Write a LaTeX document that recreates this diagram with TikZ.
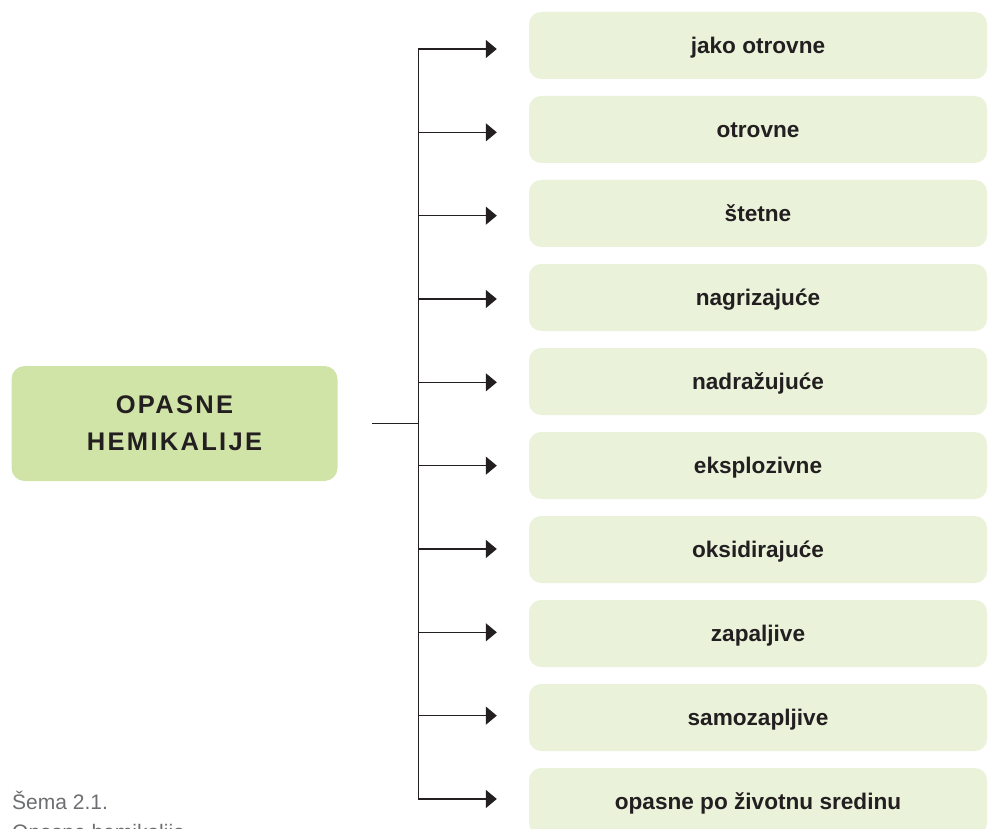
\documentclass[tikz,border=0pt]{standalone}
\usepackage{fontspec}
\setmainfont{Liberation Sans}
\newfontfamily\trackedfont[LetterSpace=9]{Liberation Sans}
\usetikzlibrary{arrows.meta}
\definecolor{ink}{HTML}{231F20}
\definecolor{leaf}{HTML}{EAF2DA}
\definecolor{core}{HTML}{D1E4A8}
\definecolor{capgray}{HTML}{6D6E71}
\tikzset{
  leafbox/.style={fill=leaf, rounded corners=12pt, minimum width=458pt, minimum height=67pt,
    inner sep=0pt, font=\fontsize{22.6}{26}\selectfont\bfseries, text=ink,
    text height=15.8pt, text depth=0pt},
  corebox/.style={fill=core, rounded corners=13pt, minimum width=326pt, minimum height=115pt,
    inner sep=0pt, align=center, font=\trackedfont\fontsize{25.5}{36.7}\selectfont\bfseries, text=ink},
  wire/.style={draw=ink, line width=1.3pt},
  arr/.style={wire, -{Triangle[length=11pt,width=18pt]}, shorten >=32pt},
  captext/.style={font=\fontsize{21}{25}\selectfont, text=capgray, inner sep=0pt, anchor=base west}
}
\begin{document}
\begin{tikzpicture}[x=1pt,y=-1pt]
\useasboundingbox (0,0) rectangle (988,829);
\node[corebox] (core) at (174.5,423.5) {OPASNE\\HEMIKALIJE};
\foreach \t [count=\k from 0] in {jako otrovne, otrovne, štetne, nagrizajuće, nadražujuće,
  eksplozivne, oksidirajuće, zapaljive, samozapljive, opasne po životnu sredinu}{
  \node[leafbox] (b\k) at (758,{45.5+84*\k}) {\t};
  \coordinate (t\k) at (418.3,{49+83.33*\k});
  \draw[arr] (t\k) -- (t\k -| b\k.west);
}
\draw[wire] (t0) -- (t9);
\coordinate (s) at (372,423.3);
\draw[wire] (s) -- (s -| t0);
\node[captext] (c1) at (12,809.3) {Šema 2.1.};
\node[captext] (c2) at (12,839) {Opasne hemikalije};
\end{tikzpicture}
\end{document}
